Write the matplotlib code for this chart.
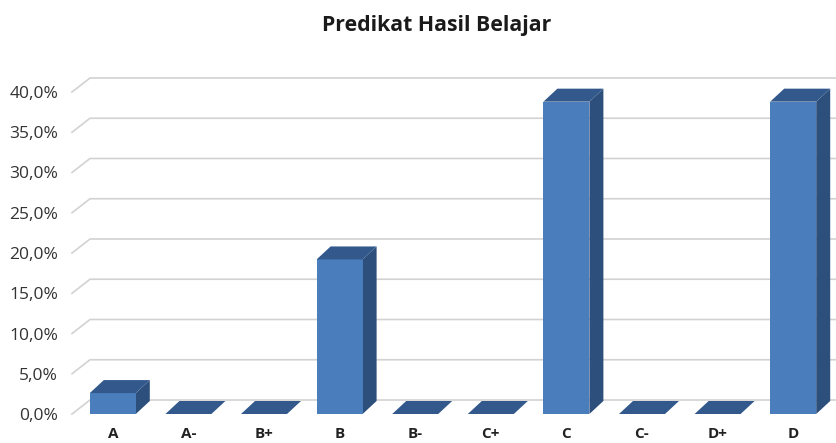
import matplotlib
matplotlib.use("Agg")
import matplotlib.pyplot as plt
from matplotlib.patches import Polygon

plt.rcParams['font.family'] = ['Open Sans', 'DejaVu Sans']

# data
predikat = ["A", "A-", "B+", "B", "B-", "C+", "C", "C-", "D+", "D"]
persen = [2.6, 0, 0, 19.2, 0, 0, 38.8, 0, 0, 38.8]
ticks_y = [0, 5, 10, 15, 20, 25, 30, 35, 40]
label_y = ["0,0%", "5,0%", "10,0%", "15,0%", "20,0%", "25,0%", "30,0%", "35,0%", "40,0%"]
judul = "Predikat Hasil Belajar"

W, H = 836, 443
fig = plt.figure(figsize=(W / 100, H / 100), dpi=100)
fig.patch.set_facecolor("white")

# front plane of the fake 3d box
x0, x1, y0, y1 = 72, 822, 414, 92
pusat = 112.8
ax = fig.add_axes([x0 / W, 1 - y0 / H, (x1 - x0) / W, (y0 - y1) / H])
step = 75.6
ax.set_xlim((x0 - pusat) / step, (x1 - pusat) / step)
ax.set_ylim(0, 40)
ax.patch.set_visible(False)
for s in ax.spines.values():
    s.set_visible(False)

# depth of the box, converted from pixels to data units
dx = 14 / step
dx_grid = 18 / step
dy = 13 / ((y0 - y1) / 40)
dy_grid = 14 / ((y0 - y1) / 40)
lebar = 46 / step
x_kanan = (836 - pusat) / step

grid_c = "#d2d2d2"
for t in ticks_y:
    xs = [ax.get_xlim()[0], ax.get_xlim()[0] + dx_grid, x_kanan]
    ys = [t, t + dy_grid, t + dy_grid]
    ax.plot(xs, ys, color=grid_c, lw=1.2, clip_on=False, zorder=1)

depan = "#4a7dbb"
atas = "#33598c"
samping = "#2d4f7c"
for i, v in enumerate(persen):
    kiri = i - lebar / 2
    kanan = i + lebar / 2
    if v > 0:
        ax.add_patch(Polygon([(kanan, 0), (kanan + dx, dy), (kanan + dx, v + dy), (kanan, v)],
                             fc=samping, ec="none", clip_on=False, zorder=2))
        ax.add_patch(Polygon([(kiri, 0), (kanan, 0), (kanan, v), (kiri, v)],
                             fc=depan, ec="none", clip_on=False, zorder=3))
    ax.add_patch(Polygon([(kiri, v), (kanan, v), (kanan + dx, v + dy), (kiri + dx, v + dy)],
                         fc=atas, ec="none", clip_on=False, zorder=3))

ax.set_xticks(range(len(predikat)))
ax.set_xticklabels(predikat, fontsize=11, fontweight="bold", color="#222222")
ax.set_yticks(ticks_y)
ax.set_yticklabels(label_y, fontsize=12.5, color="#333333")
ax.tick_params(axis="both", length=0)
ax.tick_params(axis="x", pad=9)
ax.tick_params(axis="y", pad=10)

fig.text(437 / W, 1 - 25 / H, judul, ha="center", va="center",
         fontsize=15.3, fontweight="bold", color="#1a1a1a")

fig.savefig("out.png", dpi=100)
